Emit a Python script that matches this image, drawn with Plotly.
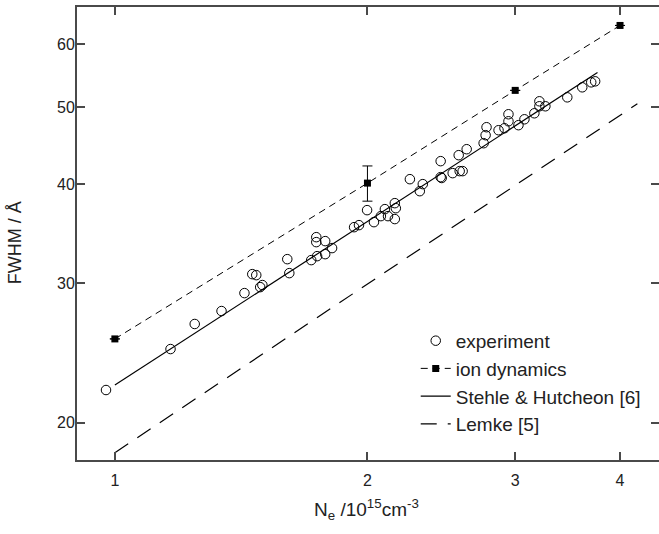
import plotly.graph_objects as go

# ---- data ----
ne_exp = [0.976, 1.165, 1.245, 1.340, 1.427, 1.458, 1.474, 1.490, 1.499, 1.605,
          1.614, 1.714, 1.738, 1.738, 1.781, 1.742, 1.781, 1.815, 1.928, 1.954,
          1.998, 2.036, 2.075, 2.098, 2.116, 2.156, 2.156, 2.162, 2.247, 2.309,
          2.328, 2.445, 2.445, 2.452, 2.527, 2.576, 2.597, 2.569, 2.626, 2.751,
          2.766, 2.773, 2.866, 2.913, 2.945, 2.945, 3.027, 3.077, 3.162, 3.206,
          3.206, 3.259, 3.461, 3.606, 3.696, 3.736]
fwhm_exp = [21.98, 24.76, 26.63, 27.65, 29.13, 30.78, 30.69, 29.64, 29.82, 32.15,
            30.87, 32.06, 34.27, 33.78, 33.88, 32.43, 32.62, 33.20, 35.28, 35.49,
            37.07, 35.80, 36.43, 37.18, 36.43, 36.12, 37.83, 37.28, 40.56, 39.17,
            39.98, 42.74, 40.80, 40.70, 41.28, 41.52, 41.52, 43.49, 44.25, 45.03,
            46.09, 47.17, 46.76, 47.03, 47.99, 48.98, 47.45, 48.27, 49.12, 50.13,
            50.86, 50.13, 51.45, 52.97, 53.74, 53.90]

ne_ion = [1, 2, 3, 4]
fwhm_ion = [25.5, 40.1, 52.5, 63.4]
err_ion = [None, 2.05, None, None]

ne_sh = [1.0, 3.76]
fwhm_sh = [22.3, 55.3]

ne_lemke = [1.0, 4.195]
fwhm_lemke = [18.32, 50.5]

x_ticks = [1, 2, 3, 4]
y_ticks = [20, 30, 40, 50, 60]

FONT = "Liberation Sans, Arial, sans-serif"
AX = "#4a4a4a"

fig = go.Figure()
fig.add_trace(go.Scatter(
    x=ne_exp, y=fwhm_exp, mode="markers", name="experiment",
    marker=dict(symbol="circle-open", size=9.5, color="black", line=dict(width=1, color="black"))))
fig.add_trace(go.Scatter(
    x=ne_ion, y=fwhm_ion, mode="lines+markers", name="ion dynamics",
    line=dict(color="black", width=1, dash="7px,5px"),
    marker=dict(symbol="square", size=7, color="black"),
    error_y=dict(type="data", array=err_ion, visible=True, color="black", thickness=1, width=5)))
fig.add_trace(go.Scatter(
    x=ne_sh, y=fwhm_sh, mode="lines", name="Stehle &amp; Hutcheon [6]",
    line=dict(color="black", width=1.2)))
fig.add_trace(go.Scatter(
    x=ne_lemke, y=fwhm_lemke, mode="lines", name="Lemke [5]",
    line=dict(color="black", width=1.2, dash="16px,11px")))

axis_common = dict(
    type="log", showgrid=False, zeroline=False,
    showline=True, linecolor=AX, linewidth=2, mirror="ticks",
    ticks="inside", ticklen=8, tickwidth=1.5, tickcolor=AX,
    tickfont=dict(family=FONT, size=16, color="#222"),
    tickmode="array",
)
fig.update_xaxes(**axis_common, range=[-0.04513, 0.6485],
                 tickvals=x_ticks, ticktext=[str(v) for v in x_ticks],
                 ticklabelstandoff=5)
fig.update_yaxes(**axis_common, range=[1.25374, 1.82537],
                 tickvals=y_ticks, ticktext=[str(v) for v in y_ticks],
                 ticklabelstandoff=-3)

fig.add_annotation(text="FWHM / Å", xref="paper", yref="paper",
                   x=-0.106, y=0.479, xanchor="center", yanchor="middle",
                   textangle=-90, showarrow=False,
                   font=dict(family=FONT, size=18, color="#222"))
fig.add_annotation(text="N<sub>e</sub> /10<sup>15</sup>cm<sup>-3</sup>", xref="paper", yref="paper",
                   x=0.4966, y=-0.11, xanchor="center", yanchor="middle",
                   showarrow=False,
                   font=dict(family=FONT, size=19, color="#222"))

fig.update_layout(
    width=661, height=534,
    margin=dict(l=77, r=0, t=7, b=74),
    paper_bgcolor="white", plot_bgcolor="white",
    showlegend=True,
    legend=dict(x=0.582, y=0.305, xanchor="left", yanchor="top",
                bgcolor="rgba(0,0,0,0)", borderwidth=0,
                font=dict(family=FONT, size=19, color="#222"),
                tracegroupgap=0),
)

fig.write_html("out.html", config={"displayModeBar": False},
               post_script="document.body.style.margin='0';document.body.style.overflow='hidden';")
